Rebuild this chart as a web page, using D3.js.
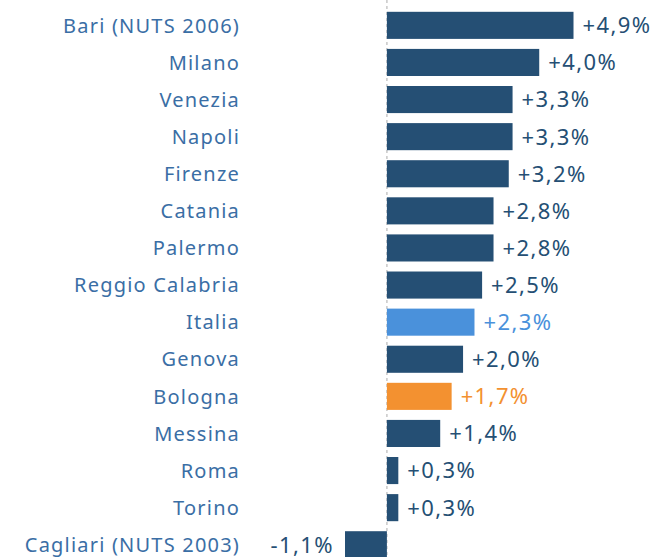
<!DOCTYPE html>
<html><head><meta charset="utf-8">
<script src="https://cdn.jsdelivr.net/npm/d3@7"></script>
<style>body{margin:0;background:#fff}svg{display:block}</style>
</head><body>
<script>
const categories = ["Bari (NUTS 2006)","Milano","Venezia","Napoli","Firenze","Catania","Palermo","Reggio Calabria","Italia","Genova","Bologna","Messina","Roma","Torino","Cagliari (NUTS 2003)"];
const values = [4.9,4.0,3.3,3.3,3.2,2.8,2.8,2.5,2.3,2.0,1.7,1.4,0.3,0.3,-1.1];
const labels = ["+4,9%","+4,0%","+3,3%","+3,3%","+3,2%","+2,8%","+2,8%","+2,5%","+2,3%","+2,0%","+1,7%","+1,4%","+0,3%","+0,3%","-1,1%"];
const highlight = {"Italia":"#4a91db","Bologna":"#f39130"};
const baseColor = "#254f74";

const W=655,H=557;
const svg=d3.select("body").append("svg").attr("width",W).attr("height",H);
const x=d3.scaleLinear().domain([-1.1,4.9]).range([345,573.5]);
const y=d3.scaleBand().domain(categories).range([6.8,563.3]).paddingInner(0.27).paddingOuter(0.135);
const data=categories.map((c,i)=>({c,v:values[i],l:labels[i]}));
const font="'Noto Sans', sans-serif";

svg.append("line").attr("x1",x(0)).attr("x2",x(0)).attr("y1",0).attr("y2",H)
  .attr("stroke","#c8c8c8").attr("stroke-width",1.5).attr("stroke-dasharray","3,3");

svg.selectAll("rect.bar").data(data).join("rect").attr("class","bar")
  .attr("x",d=>x(Math.min(0,d.v))).attr("width",d=>Math.abs(x(d.v)-x(0)))
  .attr("y",d=>y(d.c)).attr("height",y.bandwidth())
  .attr("fill",d=>highlight[d.c]||baseColor);

svg.selectAll("text.cat").data(data).join("text").attr("class","cat")
  .attr("x",240).attr("y",d=>y(d.c)+y.bandwidth()/2).attr("dy","0.36em")
  .attr("text-anchor","end").attr("font-family",font).attr("font-size",20)
  .attr("letter-spacing",1.2)
  .attr("fill","#3a6ea5").text(d=>d.c);

svg.selectAll("text.val").data(data).join("text").attr("class","val")
  .attr("x",d=>d.v>=0?x(d.v)+9:x(d.v)-11).attr("y",d=>y(d.c)+y.bandwidth()/2).attr("dy","0.36em")
  .attr("text-anchor",d=>d.v>=0?"start":"end").attr("font-family",font).attr("font-size",22)
  .attr("letter-spacing",1.4)
  .attr("fill",d=>highlight[d.c]||baseColor).text(d=>d.l);
</script>
</body></html>
